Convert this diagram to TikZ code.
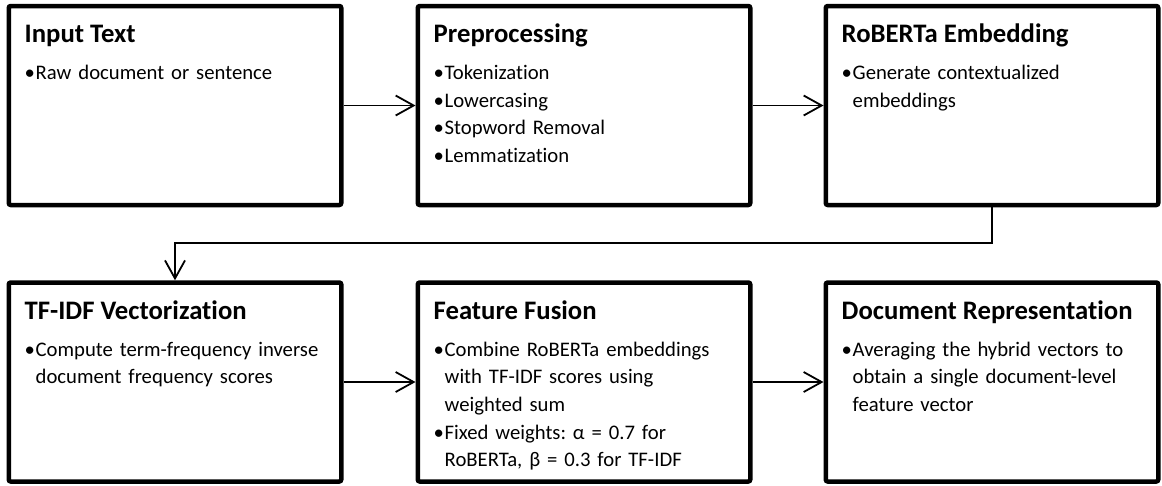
\documentclass[tikz,border=0pt]{standalone}
\usepackage{fontspec}
\setmainfont{Carlito}[Ligatures={NoCommon}]
\usetikzlibrary{arrows.meta}
\frenchspacing
% bullet entry and its continuation line, with a hanging indent
\newcommand\bitem[1]{\makebox[11pt][l]{•}#1}
\newcommand\bcont[1]{\hspace*{11pt}#1}
\begin{document}
\begin{tikzpicture}[x=1pt,y=-1pt,
  stage/.style={draw, line width=4.5pt, rounded corners=2pt,
    minimum width=332.5pt, minimum height=199pt, inner sep=0pt},
  head/.style={anchor=base west, inner sep=0pt,
    font=\bfseries\fontsize{26.7}{30}\selectfont},
  items/.style={anchor=base west, inner sep=0pt, align=left, text width=320pt,
    font=\fontsize{20.7}{27.6}\selectfont},
  flow/.style={line width=1.8pt,
    -{Straight Barb[length=18pt,width=20pt]}}
]
\useasboundingbox (0,0) rectangle (1162,485);

% pipeline stages
\node[stage] (b1) at (175,105.5) {};
\node[stage] (b2) at (584,105.5) {};
\node[stage] (b3) at (992,105.5) {};
\node[stage] (b4) at (175,382) {};
\node[stage] (b5) at (584,382) {};
\node[stage] (b6) at (992,382) {};

% headings
\node[head] (h1) at ([shift={(18,39)}]b1.north west) {Input Text};
\node[head] (h2) at ([shift={(18,39)}]b2.north west) {Preprocessing};
\node[head] (h3) at ([shift={(18,39)}]b3.north west) {RoBERTa Embedding};
\node[head] (h4) at ([shift={(18,39)}]b4.north west) {TF-IDF Vectorization};
\node[head] (h5) at ([shift={(18,39)}]b5.north west) {Feature Fusion};
\node[head] (h6) at ([shift={(18,39)}]b6.north west) {Document Representation};

% bullet lists
\node[items] (t1) at ([shift={(18,76)}]b1.north west)
  {\bitem{Raw document or sentence}};
\node[items] (t2) at ([shift={(18,76)}]b2.north west)
  {\bitem{Tokenization}\\ \bitem{Lowercasing}\\ \bitem{Stopword Removal}\\ \bitem{Lemmatization}};
\node[items] (t3) at ([shift={(18,76)}]b3.north west)
  {\bitem{Generate contextualized}\\ \bcont{embeddings}};
\node[items] (t4) at ([shift={(18,76)}]b4.north west)
  {\bitem{Compute term-frequency inverse}\\ \bcont{document frequency scores}};
\node[items] (t5) at ([shift={(18,76)}]b5.north west)
  {\bitem{Combine RoBERTa embeddings}\\ \bcont{with TF-IDF scores using}\\ \bcont{weighted sum}\\
   \bitem{Fixed weights: α = 0.7 for}\\ \bcont{RoBERTa, β = 0.3 for TF-IDF}};
\node[items] (t6) at ([shift={(18,76)}]b6.north west)
  {\bitem{Averaging the hybrid vectors to}\\ \bcont{obtain a single document-level}\\ \bcont{feature vector}};

% connectors
\coordinate (bend) at (992,243);
\draw[flow] (b1.east) -- (b2.west);
\draw[flow] (b2.east) -- (b3.west);
\draw[flow] (b3.south) -- (b3.south |- bend) -| (b4.north);
\draw[flow] (b4.east) -- (b5.west);
\draw[flow] (b5.east) -- (b6.west);
\end{tikzpicture}
\end{document}
